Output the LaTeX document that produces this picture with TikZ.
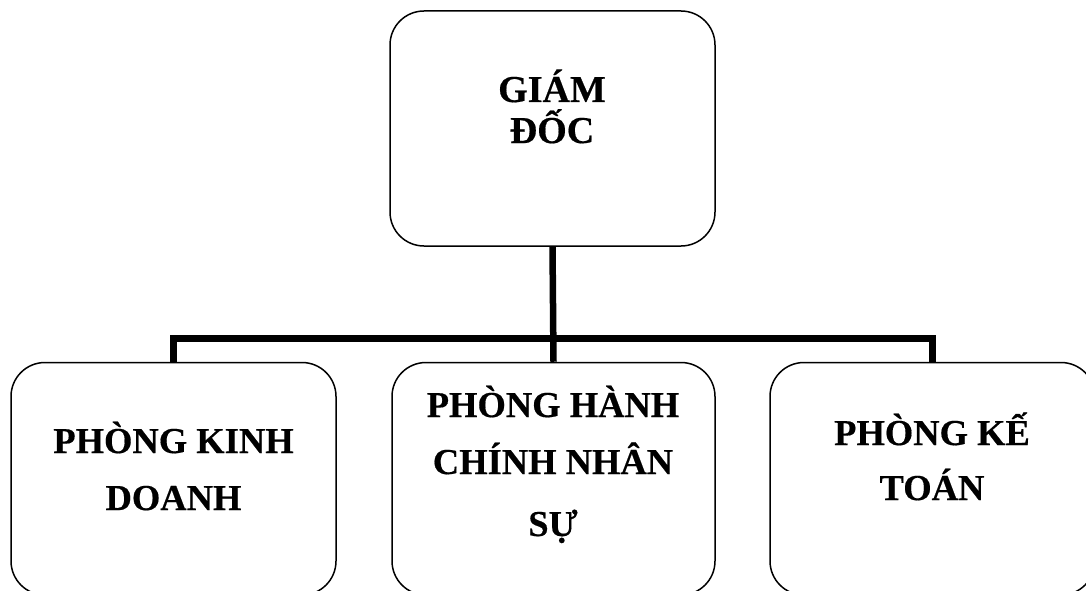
\documentclass[tikz,border=0pt]{standalone}
\usepackage{fontspec}
\setmainfont{Liberation Serif}
\newfontfamily\heavyserif{Liberation Serif Bold}[FakeBold=0.4]
\begin{document}
\begin{tikzpicture}[x=1pt,y=-1pt,
  unitbox/.style={draw=black, line width=1.5pt, rounded corners=34pt, inner sep=0pt},
  toptext/.style={anchor=base, inner sep=0pt, font=\heavyserif\fontsize{38}{40}\selectfont},
  deptext/.style={anchor=base, inner sep=0pt, font=\heavyserif\fontsize{36.5}{40}\selectfont},
  link/.style={line width=6.5pt, line join=miter}]
\useasboundingbox (0,0) rectangle (1086,591);
\clip (0,0) rectangle (1086,591);

% boxes
\node[unitbox, minimum width=325pt, minimum height=235pt] (gd) at (552.5,128.5) {};
\node[unitbox, minimum width=325pt, minimum height=232.5pt] (kd) at (173.5,478.75) {};
\node[unitbox, minimum width=323pt, minimum height=232.5pt] (ns) at (553.5,478.75) {};
\node[unitbox, minimum width=325pt, minimum height=232.5pt] (kt) at (932.5,478.75) {};

% labels
\node[toptext] (gd1) at (552,102) {GIÁM};
\node[toptext] (gd2) at (552,143) {ĐỐC};
\node[deptext] (kd1) at (173.5,453) {PHÒNG KINH};
\node[deptext] (kd2) at (173.5,510) {DOANH};
\node[deptext] (ns1) at (553,417) {PHÒNG HÀNH};
\node[deptext] (ns2) at (553,474) {CHÍNH NHÂN};
\node[deptext] (ns3) at (553,536) {SỰ};
\node[deptext] (kt1) at (932,445) {PHÒNG KẾ};
\node[deptext] (kt2) at (932,500) {TOÁN};

% connectors
\coordinate (hub) at (553,338.5);
\draw[link] (gd.south) -- (ns.north);
\draw[link] (kd.north) -- (kd.north |- hub) -- (kt.north |- hub) -- (kt.north);
\end{tikzpicture}
\end{document}
